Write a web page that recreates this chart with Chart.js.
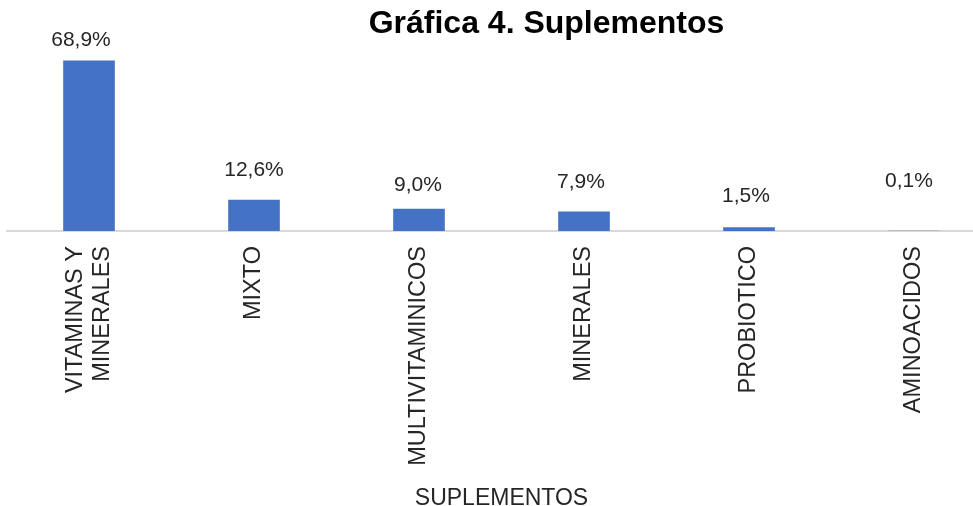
<!DOCTYPE html>
<html>
<head>
<meta charset="utf-8">
<script src="https://cdn.jsdelivr.net/npm/chart.js@4"></script>
<style>
  html, body { margin: 0; padding: 0; background: #fff; overflow: hidden; }
  #wrap { width: 973px; height: 506px; overflow: hidden; position: relative; }
  canvas { display: block; }
</style>
</head>
<body>
<div id="wrap"><canvas id="c" width="1000" height="512"></canvas></div>
<script>
const chartTitle = 'Gráfica 4. Suplementos';
const axisTitle = 'SUPLEMENTOS';
const categories = [
  ['VITAMINAS Y', 'MINERALES'],
  'MIXTO',
  'MULTIVITAMINICOS',
  'MINERALES',
  'PROBIOTICO',
  'AMINOACIDOS'
];
const percentValues = [68.9, 12.6, 9.0, 7.9, 1.5, 0.1];

// label nudges (style only), relative to each bar top
const labelDx = [-8, 0, -1, -3, -3, -5];
const labelDy = [-20, -30, -24, -29, -31, -50];

const FONT = "'Liberation Sans', Arial, sans-serif";
const TICK_LH = 27;
const fmt = v => v.toFixed(1).replace('.', ',') + '%';

const valueLabels = {
  id: 'valueLabels',
  afterDatasetsDraw(chart) {
    const ctx = chart.ctx;
    const meta = chart.getDatasetMeta(0);
    ctx.save();
    ctx.font = '21px ' + FONT;
    ctx.fillStyle = '#262626';
    ctx.textAlign = 'center';
    ctx.textBaseline = 'middle';
    meta.data.forEach((bar, i) => {
      ctx.fillText(fmt(percentValues[i]), bar.x + labelDx[i], bar.y + labelDy[i]);
    });
    ctx.restore();
  }
};

// center multi-line rotated tick labels on their tick
const centerMultiline = {
  id: 'centerMultiline',
  beforeDraw(chart) {
    const s = chart.scales.x;
    const items = s.getLabelItems(chart.chartArea);
    items.forEach(it => {
      if (Array.isArray(it.label) && !it._centered) {
        it.options.translation[0] -= (it.label.length - 1) * TICK_LH / 2;
        it._centered = true;
      }
    });
  }
};

const offsetTitle = {
  id: 'offsetTitle',
  afterDraw(chart, args, opts) {
    const ctx = chart.ctx;
    ctx.save();
    ctx.font = 'bold 32px ' + FONT;
    ctx.fillStyle = '#000';
    ctx.textAlign = 'center';
    ctx.textBaseline = 'middle';
    ctx.fillText(opts.text, opts.x, opts.y);
    ctx.restore();
  }
};

new Chart(document.getElementById('c'), {
  type: 'bar',
  data: {
    labels: categories,
    datasets: [{
      data: percentValues,
      backgroundColor: '#4472C4',
      borderWidth: 0,
      categoryPercentage: 1,
      barPercentage: 0.313
    }]
  },
  options: {
    responsive: false,
    animation: false,
    layout: { padding: { left: 6.5, right: 3.5, top: 33, bottom: 0 } },
    plugins: {
      legend: { display: false },
      tooltip: { enabled: false },
      offsetTitle: { text: chartTitle, x: 546.5, y: 24 }
    },
    scales: {
      y: {
        display: false,
        min: 0,
        max: 80
      },
      x: {
        afterFit(scale) { scale.height = 281; },
        grid: { display: false, drawTicks: false },
        border: { display: true, color: '#d9d9d9', width: 2 },
        ticks: {
          color: '#262626',
          font: { family: FONT, size: 23.5, lineHeight: TICK_LH / 23.5 },
          minRotation: 90,
          maxRotation: 90,
          padding: 15,
          autoSkip: false
        },
        title: {
          display: true,
          text: axisTitle,
          color: '#262626',
          font: { family: FONT, size: 23, lineHeight: 1.2 },
          padding: { top: 4, bottom: 0 }
        }
      }
    }
  },
  plugins: [centerMultiline, valueLabels, offsetTitle]
});
</script>
</body>
</html>
